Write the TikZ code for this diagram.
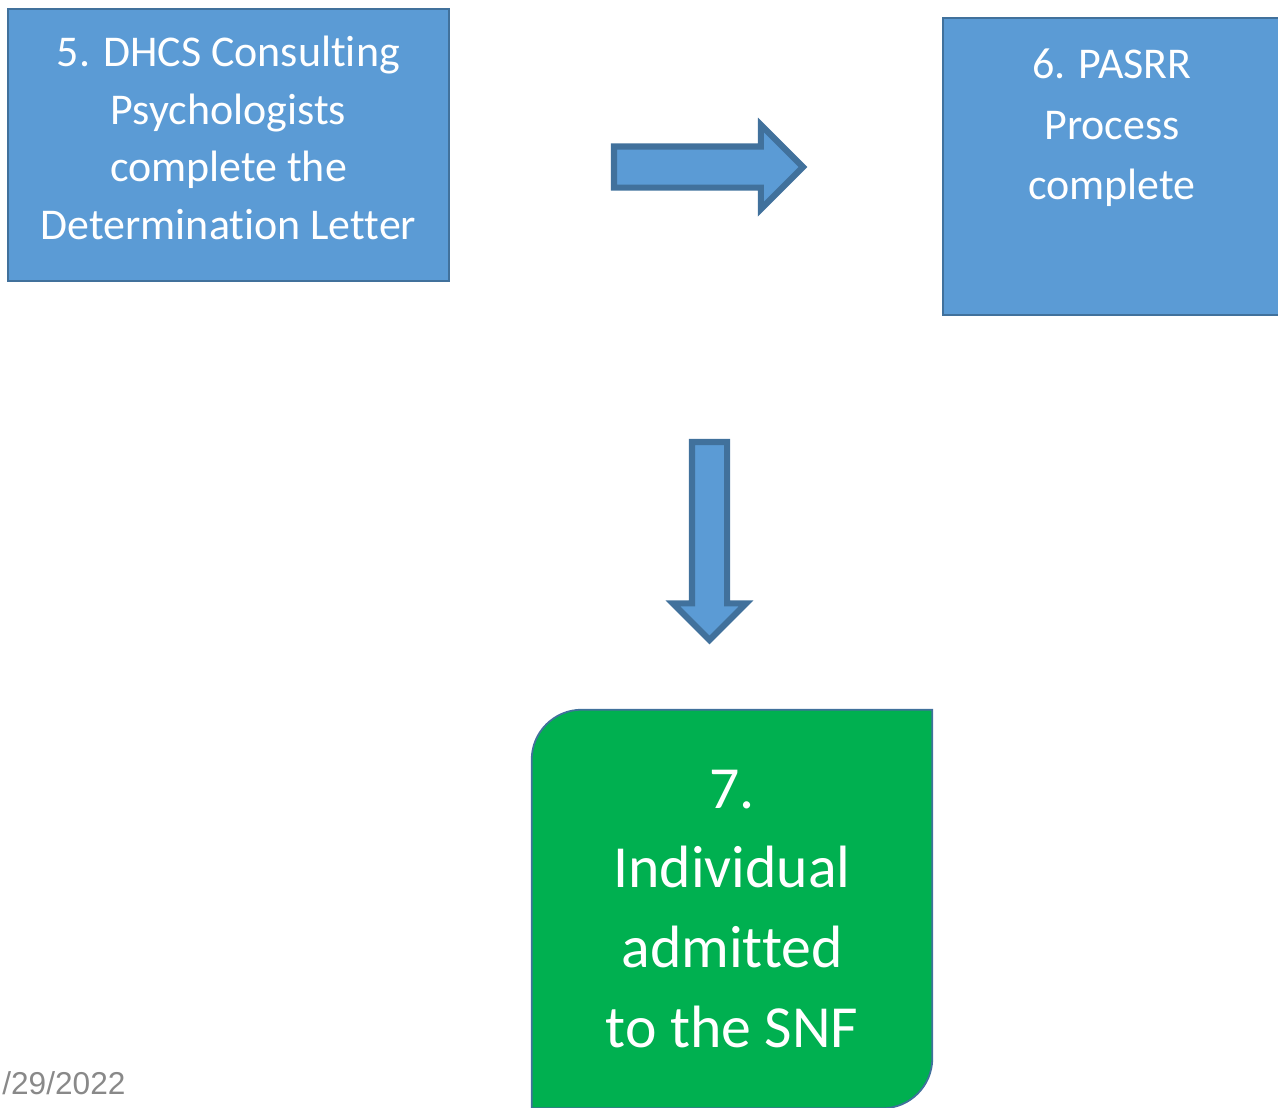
\documentclass[tikz,border=0pt]{standalone}
\usepackage{fontspec}
\setmainfont{Carlito}[Ligatures=NoCommon]
\newfontfamily\datefont{Liberation Sans}
\usetikzlibrary{shapes.arrows, positioning, backgrounds}

\definecolor{boxblue}{HTML}{5B9BD5}
\definecolor{edgeblue}{HTML}{41719C}
\definecolor{snfgreen}{HTML}{00B050}
\definecolor{dategray}{HTML}{898989}

\begin{document}
\begin{tikzpicture}[x=0.02cm, y=-0.02cm,
  stepbox/.style={rectangle, fill=boxblue, draw=edgeblue, line width=1.5pt, text=white, align=center, inner sep=0pt, outer sep=0pt, anchor=north west},
  blockarrow/.style={single arrow, fill=boxblue, draw=edgeblue, line width=3.5pt, single arrow head extend=0.43cm, inner sep=0.35cm, outer sep=0pt, anchor=tail}]
\useasboundingbox (0,0) rectangle (1278,1107);

% Step 5
\node[stepbox, minimum width=8.82cm, text height=4.62cm, text depth=0.82cm, font=\fontsize{25}{33}\selectfont] (determination) at (8,9) {5. DHCS Consulting\\Psychologists\\complete the\\Determination Letter};

% Step 6 (text sits at the top)
\node[stepbox, minimum width=6.76cm, text height=3.64cm, text depth=2.3cm, font=\fontsize{25}{34.7}\selectfont] (pasrr) at (943,18) {6. PASRR\\Process\\complete};

% Block arrows
\node[blockarrow, minimum height=3.78cm] (arrowright) at (614,167) {};
\node[blockarrow, shape border rotate=270, inner sep=0.29cm, single arrow head extend=0.38cm, minimum height=3.96cm] (arrowdown) at (709.5,442) {};

% Step 7
\node[text=white, align=center, minimum width=8cm, minimum height=7.96cm, inner sep=0pt, font=\fontsize{34}{45.5}\selectfont] (admitted) at (732,909) {7.\\Individual\\admitted\\to the SNF};
\begin{pgfonlayer}{background}
\filldraw[fill=snfgreen, draw=edgeblue, line width=1pt] (admitted.south west) -- ([yshift=-1cm]admitted.north west) arc[start angle=180, end angle=90, radius=1cm] -- (admitted.north east) -- ([yshift=1cm]admitted.south east) arc[start angle=0, end angle=-90, radius=1cm] -- cycle;
\end{pgfonlayer}

% Date
\node[font=\datefont\fontsize{18}{20}\selectfont, text=dategray, anchor=west, inner sep=0pt] (date) at (2,1083) {/29/2022};
\end{tikzpicture}
\end{document}
